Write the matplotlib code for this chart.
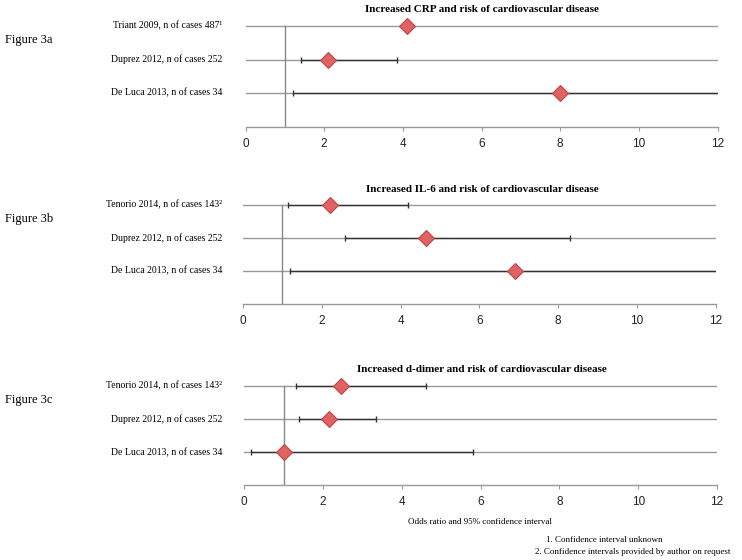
import matplotlib
matplotlib.use("Agg")
import matplotlib.pyplot as plt
import numpy as np

# ---- data ----
titles = ["Increased CRP and risk of cardiovascular disease",
          "Increased IL-6 and risk of cardiovascular disease",
          "Increased d-dimer and risk of cardiovascular disease"]
fig_labels = ["Figure 3a", "Figure 3b", "Figure 3c"]

studies_a = ["Triant 2009, n of cases 487\u00b9", "Duprez 2012, n of cases 252", "De Luca 2013, n of cases 34"]
or_a = [4.1, 2.1, 8.0]
lo_a = [np.nan, 1.4, 1.2]
hi_a = [np.nan, 3.85, 14.0]

studies_b = ["Tenorio 2014, n of cases 143\u00b2", "Duprez 2012, n of cases 252", "De Luca 2013, n of cases 34"]
or_b = [2.2, 4.65, 6.9]
lo_b = [1.15, 2.6, 1.2]
hi_b = [4.2, 8.3, 14.0]

studies_c = ["Tenorio 2014, n of cases 143\u00b2", "Duprez 2012, n of cases 252", "De Luca 2013, n of cases 34"]
or_c = [2.45, 2.15, 1.02]
lo_c = [1.3, 1.4, 0.18]
hi_c = [4.6, 3.35, 5.8]

xticks = [0, 2, 4, 6, 8, 10, 12]
ref_line = 1
xlabel = "Odds ratio and 95% confidence interval"
footnotes = ["1. Confidence interval unknown",
             "2. Confidence intervals provided by author on request"]

panels = [(studies_a, or_a, lo_a, hi_a),
          (studies_b, or_b, lo_b, hi_b),
          (studies_c, or_c, lo_c, hi_c)]

W, H = 742, 560
fig = plt.figure(figsize=(W / 100, H / 100), dpi=100)
fig.patch.set_facecolor("white")

serif = ["Liberation Serif", "DejaVu Serif"]
sans = ["Liberation Sans", "DejaVu Sans"]

# pixel geometry: (x0, x12, y_top_grid, y_axis)
geom = [(245.5, 717.5, 26, 126.5),
        (243.0, 715.5, 205, 304),
        (244.3, 717.0, 386, 485.3)]

YTOP = 3.25
grid_col = "#9a9a9a"
for i, ((names, ors, los, his), (x0, x1, yt, yb)) in enumerate(zip(panels, geom)):
    unit = (yb - yt) / 3.0
    top_px = yt - (YTOP - 3) * unit
    ax = fig.add_axes([x0 / W, 1 - yb / H, (x1 - x0) / W, (yb - top_px) / H])
    ax.set_xlim(0, 12)
    ax.set_ylim(0, YTOP)
    n = len(names)
    ys = np.arange(n, 0, -1)
    for y in ys:
        ax.axhline(y, color=grid_col, lw=1.0, zorder=1)
    ax.plot([ref_line, ref_line], [0, 3], color="#888888", lw=1.0, zorder=2)
    for y, o, lo, hi in zip(ys, ors, los, his):
        if not np.isnan(lo):
            ax.errorbar([o], [y], xerr=[[o - lo], [hi - o]], fmt="none",
                        ecolor="#333333", elinewidth=1.0, capsize=2.5, capthick=1.0,
                        zorder=3)
        ax.plot([o], [y], marker="D", markersize=8.5, markerfacecolor="#e06262",
                markeredgecolor="#b84848", markeredgewidth=0.8, zorder=4)
    for s in ["top", "right", "left"]:
        ax.spines[s].set_visible(False)
    ax.spines["bottom"].set_color(grid_col)
    ax.spines["bottom"].set_linewidth(1.0)
    ax.set_yticks([])
    ax.set_xticks(xticks)
    ax.set_xticklabels([str(t) for t in xticks], fontfamily=sans, fontsize=8.5,
                       color="#222222")
    ax.tick_params(axis="x", length=3, color=grid_col, pad=5)
    ax.set_facecolor("none")
    # study labels
    for y, name in zip(ys, names):
        ypx = yt + (3 - y) * unit
        fig.text(222 / W, 1 - ypx / H, name, ha="right", va="center",
                 fontfamily=serif, fontsize=7)
    # title
    fig.text(482 / W, 1 - (yt - 16) / H, titles[i], ha="center", va="center",
             fontfamily=serif, fontsize=8, fontweight="bold")
    # figure label
    fig.text(5 / W, 1 - (yt + 14) / H, fig_labels[i], ha="left", va="center",
             fontfamily=serif, fontsize=9)

fig.text(480 / W, 1 - 522 / H, xlabel, ha="center", va="center",
         fontfamily=serif, fontsize=6.5)
fig.text(546 / W, 1 - 540 / H, footnotes[0], ha="left", va="center",
         fontfamily=serif, fontsize=6.5)
fig.text(535 / W, 1 - 552 / H, footnotes[1], ha="left", va="center",
         fontfamily=serif, fontsize=6.5)

fig.savefig("out.png", dpi=100)
